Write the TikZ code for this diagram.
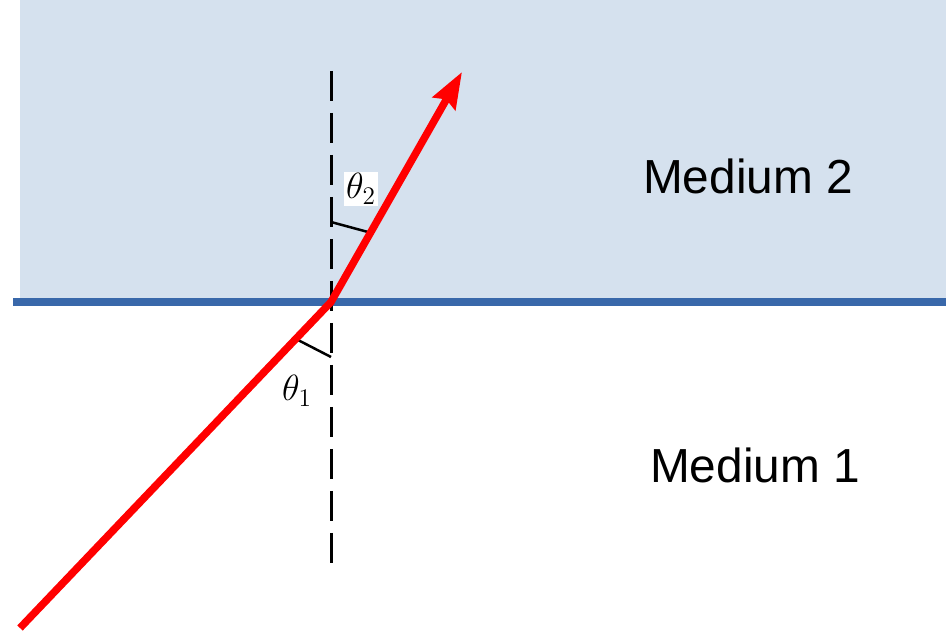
\documentclass[tikz,border=0pt]{standalone}
\usepackage{fontspec}
\setsansfont{Liberation Sans}
\usetikzlibrary{arrows.meta}
\definecolor{medbg}{RGB}{213,225,238}
\definecolor{surf}{RGB}{57,104,170}
\definecolor{ray}{RGB}{255,0,0}
\tikzset{
  medlabel/.style={font=\sffamily\fontsize{27.2}{30}\selectfont, anchor=base, inner sep=0pt},
  anglelabel/.style={font=\fontsize{21}{24}\selectfont, inner sep=1.2pt},
  normalline/.style={line width=0.06cm, dash pattern=on 0.6cm off 0.24cm},
  anglemark/.style={line width=0.05cm},
  raypath/.style={ray, line width=0.15cm, line join=miter,
    -{Stealth[length=0.72cm, width=0.51cm, inset=0.09cm]}}
}
\begin{document}
\begin{tikzpicture}[x=0.02cm, y=-0.02cm]
\useasboundingbox (0,0) rectangle (946,631);
% medium 2 region
\fill[medbg] (20,0) rectangle (946,302);
% interface
\coordinate (surfL) at (13,302);
\coordinate (surfR) at (946,302);
\draw[surf, line width=0.16cm] (surfL) -- (surfR);
% normal
\coordinate (ntop) at (331,71);
\coordinate (nbot) at (331,567);
\draw[normalline] (ntop) -- (nbot);
% ray points
\coordinate (start) at (20,628);
\coordinate (hit) at (331,302);
\coordinate (tip) at (462,72);
% angle marks
\coordinate (m1a) at (331,357);
\coordinate (m1b) at (298,340);
\coordinate (m2a) at (331,222);
\coordinate (m2b) at (368,232);
\draw[anglemark] (m1a) -- (m1b);
\draw[anglemark] (m2a) -- (m2b);
% ray
\draw[raypath] (start) -- (hit) -- (tip);
% labels
\node[anglelabel, fill=white] (th2) at (361,189) {$\theta_2$};
\node[anglelabel] (th1) at (297,391) {$\theta_1$};
\node[medlabel] (med2) at (748,194) {Medium 2};
\node[medlabel] (med1) at (755,482) {Medium 1};
\end{tikzpicture}
\end{document}
